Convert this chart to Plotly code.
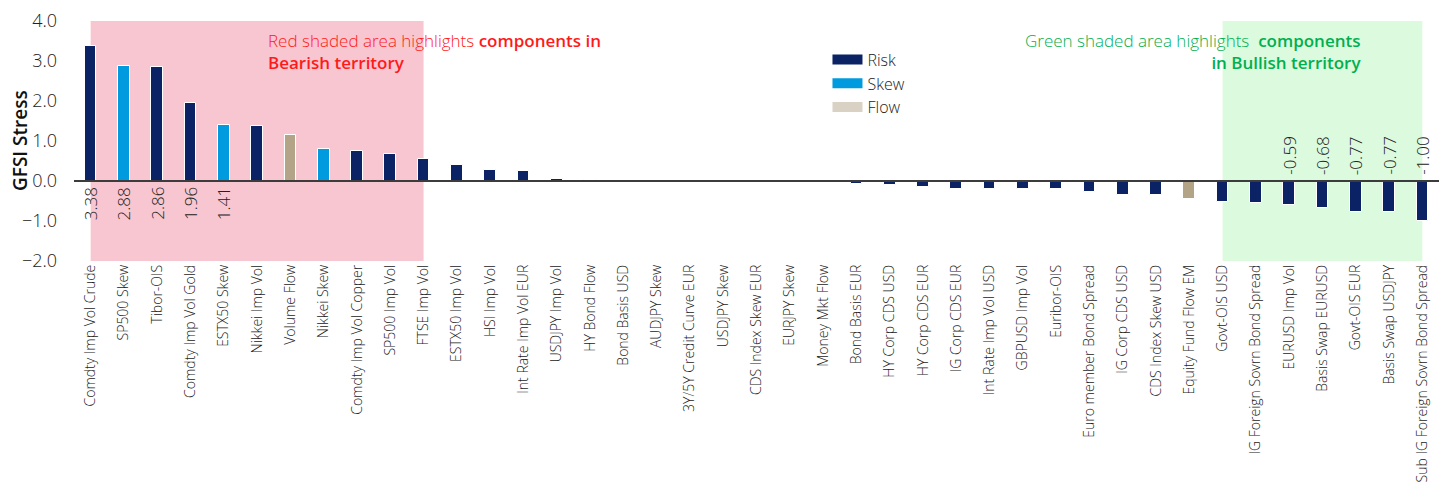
import plotly.graph_objects as go

# GFSI stress components, sorted from most bearish to most bullish
categories = [
    "Comdty Imp Vol Crude", "SP500 Skew", "Tibor-OIS", "Comdty Imp Vol Gold",
    "ESTX50 Skew", "Nikkei Imp Vol", "Volume Flow", "Nikkei Skew",
    "Comdty Imp Vol Copper", "SP500 Imp Vol", "FTSE Imp Vol", "ESTX50 Imp Vol",
    "HSI Imp Vol", "Int Rate Imp Vol EUR", "USDJPY Imp Vol", "HY Bond Flow",
    "Bond Basis USD", "AUDJPY Skew", "3Y/5Y Credit Curve EUR", "USDJPY Skew",
    "CDS Index Skew EUR", "EURJPY Skew", "Money Mkt Flow", "Bond Basis EUR",
    "HY Corp CDS USD", "HY Corp CDS EUR", "IG Corp CDS EUR", "Int Rate Imp Vol USD",
    "GBPUSD Imp Vol", "Euribor-OIS", "Euro member Bond Spread", "IG Corp CDS USD",
    "CDS Index Skew USD", "Equity Fund Flow EM", "Govt-OIS USD",
    "IG Foreign Sovrn Bond Spread", "EURUSD Imp Vol", "Basis Swap EURUSD",
    "Govt-OIS EUR", "Basis Swap USDJPY", "Sub IG Foreign Sovrn Bond Spread",
]
values = [
    3.38, 2.88, 2.86, 1.96,
    1.41, 1.38, 1.14, 0.79,
    0.75, 0.68, 0.55, 0.41,
    0.28, 0.25, 0.06, 0.02,
    0.004, 0.0, -0.004, -0.01,
    -0.02, -0.02, -0.02, -0.08,
    -0.11, -0.14, -0.19, -0.19,
    -0.21, -0.21, -0.28, -0.34,
    -0.36, -0.44, -0.53,
    -0.55, -0.59, -0.68,
    -0.77, -0.77, -1.00,
]
groups = [
    "Risk", "Skew", "Risk", "Risk",
    "Skew", "Risk", "Flow", "Skew",
    "Risk", "Risk", "Risk", "Risk",
    "Risk", "Risk", "Risk", "Flow",
    "Risk", "Skew", "Risk", "Skew",
    "Risk", "Skew", "Flow", "Risk",
    "Risk", "Risk", "Risk", "Risk",
    "Risk", "Risk", "Risk", "Risk",
    "Risk", "Flow", "Risk",
    "Risk", "Risk", "Risk",
    "Risk", "Risk", "Risk",
]
labelled = [
    "Comdty Imp Vol Crude", "SP500 Skew", "Tibor-OIS", "Comdty Imp Vol Gold",
    "ESTX50 Skew", "EURUSD Imp Vol", "Basis Swap EURUSD", "Govt-OIS EUR",
    "Basis Swap USDJPY", "Sub IG Foreign Sovrn Bond Spread",
]
group_names = ["Risk", "Skew", "Flow"]
bar_colors = {"Risk": "#0B2265", "Skew": "#009ADF", "Flow": "#B3A387"}
key_colors = {"Risk": "#0B2265", "Skew": "#009ADF", "Flow": "#DAD1C5"}

# Shaded zones (first/last category of each)
bear_zone = ("Comdty Imp Vol Crude", "FTSE Imp Vol")
bull_zone = ("Govt-OIS USD", "Sub IG Foreign Sovrn Bond Spread")

FONT = "Open Sans"
TXT = "#222222"

fig = go.Figure()

for g in group_names:
    xs = [c for c, gg in zip(categories, groups) if gg == g]
    ys = [v for v, gg in zip(values, groups) if gg == g]
    fig.add_trace(go.Bar(
        x=xs, y=ys, name=g, showlegend=False,
        marker=dict(color=bar_colors[g], line=dict(color="white", width=1)),
        width=0.35, hoverinfo="x+y",
    ))

# legend keys drawn as wide swatches
for g in group_names:
    fig.add_trace(go.Scatter(
        x=[None], y=[None], mode="lines", name=g,
        line=dict(color=key_colors[g], width=12),
    ))

# value labels
for c, v in zip(categories, values):
    if c not in labelled:
        continue
    fig.add_annotation(
        x=c, y=0, xref="x", yref="y", text=f"{v:.2f}", showarrow=False,
        textangle=-90, font=dict(family=FONT, size=17, color=TXT, weight=300),
        yanchor="top" if v > 0 else "bottom",
        yshift=-4 if v > 0 else 4,
    )

fig.add_shape(type="rect", xref="x", yref="y", x0=bear_zone[0], x1=bear_zone[1],
              y0=-2, y1=4, fillcolor="#F8C6D0", line_width=0, layer="below")
fig.add_shape(type="rect", xref="x", yref="y", x0=bull_zone[0], x1=bull_zone[1],
              y0=-2, y1=4, fillcolor="#DCFADD", line_width=0, layer="below")
# zero line on top of the bars
fig.add_shape(type="line", xref="paper", yref="y", x0=0, x1=1, y0=0, y1=0,
              line=dict(color="#3C3C3C", width=2), layer="above")

fig.add_annotation(
    xref="paper", yref="paper", x=0.1408, y=0.975, xanchor="left", yanchor="top",
    align="left", showarrow=False,
    text=('<span style="font-weight:300">Red shaded area highlights </span>'
          '<span style="font-weight:600">components in</span><br>'
          '<span style="font-weight:600">Bearish territory</span>'),
    font=dict(family=FONT, size=17, color="#FF1A1A"),
)
fig.add_annotation(
    xref="paper", yref="paper", x=0.9445, y=0.975, xanchor="right", yanchor="top",
    align="right", showarrow=False,
    text=('<span style="font-weight:300">Green shaded area highlights </span>'
          ' <span style="font-weight:600">components</span><br>'
          '<span style="font-weight:600">in Bullish territory</span>'),
    font=dict(family=FONT, size=17, color="#00B050"),
)

fig.add_annotation(
    xref="paper", yref="paper", x=0, y=0.5, xshift=-54, xanchor="center",
    yanchor="middle", textangle=-90, showarrow=False,
    text='<span style="font-weight:600">GFSI Stress</span>',
    font=dict(family=FONT, size=19, color="#111111"),
)

fig.update_layout(
    width=1443, height=500,
    margin=dict(l=74, r=4, t=21, b=239, autoexpand=False),
    paper_bgcolor="white", plot_bgcolor="white",
    barmode="overlay", bargap=0,
    font=dict(family=FONT, color=TXT),
    legend=dict(
        x=0.552, y=0.91, xanchor="left", yanchor="top",
        font=dict(family=FONT, size=16, color=TXT, weight=300),
        bgcolor="rgba(0,0,0,0)", itemwidth=30, tracegroupgap=0,
    ),
    xaxis=dict(
        categoryorder="array", categoryarray=categories, range=[-0.5, 40.5],
        tickangle=-90, showgrid=False, showline=False, ticks="",
        tickfont=dict(family=FONT, size=14, color=TXT, weight=300),
        automargin=False,
    ),
    yaxis=dict(
        range=[-2, 4], tickvals=[-2, -1, 0, 1, 2, 3, 4], tickformat=".1f",
        showgrid=False, showline=False, ticks="", ticklabelstandoff=16,
        zeroline=False,
        tickfont=dict(family=FONT, size=18, color=TXT, weight=300),
        automargin=False,
    ),
    showlegend=True,
)

fig.write_html("out.html")
